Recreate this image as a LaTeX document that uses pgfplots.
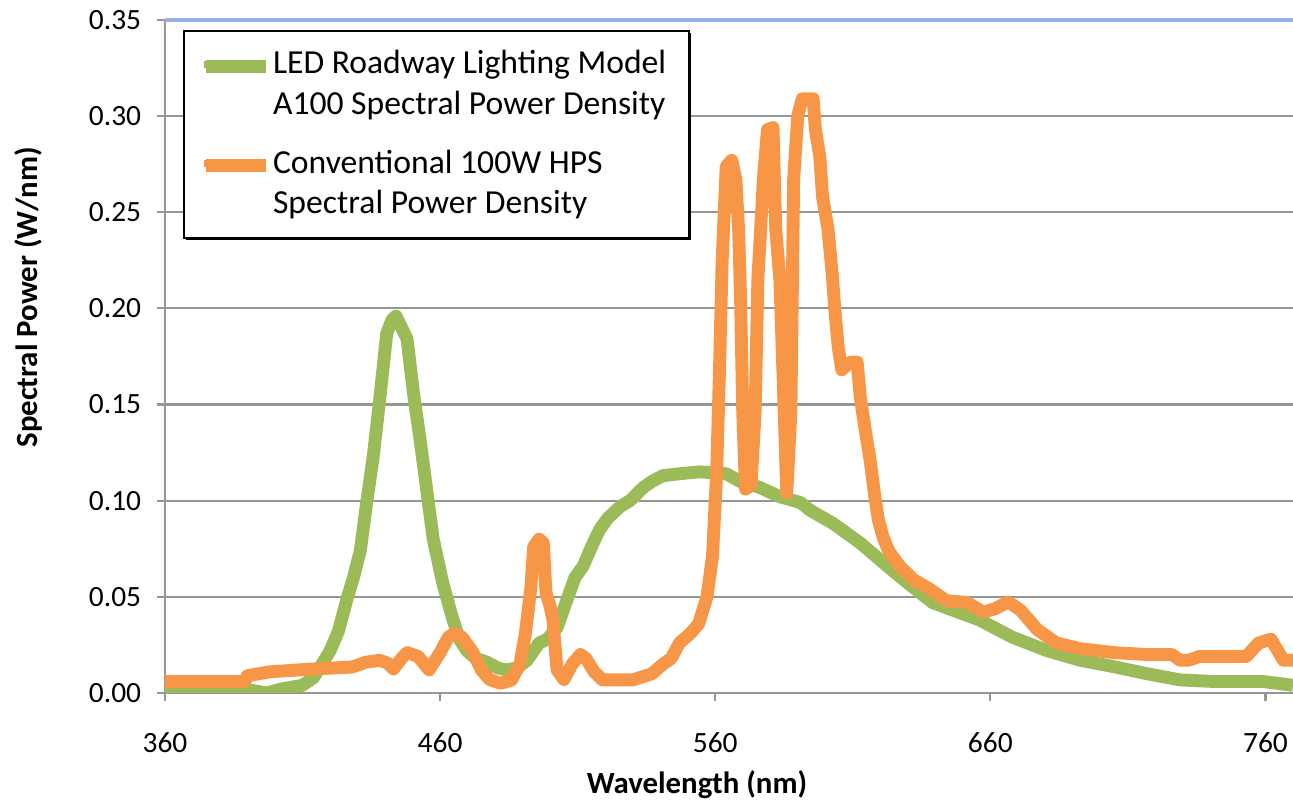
\documentclass[border=0pt]{standalone}
\usepackage{fontspec}
\setmainfont{Carlito}
\usepackage{pgfplots}
\pgfplotsset{compat=1.18}
\usetikzlibrary{shadows}

\definecolor{ledgreen}{RGB}{155,187,89}
\definecolor{hpsorange}{RGB}{247,150,70}
\definecolor{topblue}{RGB}{149,179,222}
\definecolor{gridgray}{RGB}{150,150,150}

\begin{document}
\begin{tikzpicture}
\useasboundingbox (-58.9pt,-41.06pt) rectangle (402.7pt,247.4pt);
\begin{axis}[
    scale only axis,
    width=402.7pt, height=240.3pt,
    xmin=360, xmax=770,
    ymin=0, ymax=0.35,
    xtick={360,460,...,760},
    ytick={0,0.05,...,0.3},
    extra y ticks={0.35},
    extra y tick style={grid style={color=topblue, line width=1.6pt}},
    axis x line*=bottom,
    axis y line*=left,
    axis line style={gridgray, line width=0.8pt, -},
    tick align=outside,
    major tick length=3pt,
    tick style={gridgray, line width=0.8pt},
    ymajorgrids,
    grid style={gridgray, line width=0.8pt},
    /pgf/number format/assume math mode=true,
    yticklabel style={/pgf/number format/fixed, /pgf/number format/fixed zerofill, /pgf/number format/precision=2, xshift=-2pt},
    ticklabel style={font=\fontsize{10.5}{12}\selectfont},
    xticklabel style={yshift=-7.5pt},
    xlabel={\textbf{Wavelength (nm)}},
    ylabel={\textbf{Spectral Power (W/nm)}},
    label style={font=\fontsize{11}{13}\selectfont},
    xlabel style={at={(axis description cs:0.4716,-0.1366)}, anchor=center},
    ylabel style={at={(axis description cs:-0.1214,0.588)}, anchor=center},
    legend style={at={(0.016,0.985)}, anchor=north west,
        draw=black, line width=0.6pt,
        drop shadow={shadow xshift=0.7pt, shadow yshift=-0.7pt, fill=black, opacity=1},
        font=\fontsize{12}{14.6}\selectfont,
        cells={align=left}, row sep=7pt,
        inner xsep=6pt, inner ysep=5pt},
    legend cell align=left,
    legend image code/.code={\draw[line width=2.5pt] (0cm,7.3pt) -- (0.75cm,7.3pt);},
]
\addplot[ledgreen, line width=4.6pt, line join=round] coordinates {
(360,0.002) (389,0.002) (393,0.001) (397,0.000) (402,0.002) (410,0.004)
(414,0.008) (417.5,0.016) (420,0.022) (423,0.032) (426,0.048) (428.5,0.060)
(431,0.074) (433.4,0.100) (435.7,0.123) (438,0.152) (440.6,0.187) (442.5,0.194)
(444,0.196) (446,0.190) (448,0.184) (450.3,0.156) (452.7,0.132) (455,0.107)
(457.5,0.080) (461,0.057) (464.7,0.038) (467,0.028) (469.7,0.022) (473,0.018)
(477,0.016) (481,0.013) (484,0.012) (488,0.013) (491.6,0.017) (496,0.026)
(499,0.028) (502.5,0.034) (505,0.044) (507,0.052) (509,0.060) (512,0.066)
(515,0.076) (518,0.085) (521,0.091) (525.5,0.097) (529,0.100) (534,0.107)
(537,0.110) (541,0.113) (547,0.114) (554.5,0.115) (564,0.114) (569,0.110)
(571.6,0.109) (576,0.107) (583.6,0.102) (591,0.099) (594.5,0.095) (603,0.088)
(612.7,0.078) (622.5,0.066) (631,0.056) (639,0.047) (646.5,0.043) (656,0.038)
(668,0.029) (680.6,0.022) (692.7,0.017) (704.8,0.0137) (717,0.010) (729,0.0068)
(741,0.006) (759,0.006) (770,0.004)
};
\addlegendentry{LED Roadway Lighting Model\\A100 Spectral Power Density}
\addplot[hpsorange, line width=4.6pt, line join=round] coordinates {
(360,0.006) (389,0.006) (390,0.009) (398,0.011) (414,0.0125) (428,0.0135)
(433,0.016) (438,0.017) (441,0.0155) (443,0.0125) (446,0.018) (448,0.021)
(452,0.019) (456,0.012) (460,0.021) (463,0.029) (465,0.031) (468,0.029)
(472,0.021) (475,0.012) (478,0.007) (482,0.005) (486,0.0068) (489,0.015)
(491,0.031) (493,0.055) (494,0.076) (496,0.080) (497.5,0.078) (498.5,0.052)
(500,0.045) (501,0.038) (502.5,0.012) (505,0.007) (508,0.015) (511,0.020)
(513,0.018) (516,0.011) (519,0.0068) (530,0.0068) (537,0.010) (541,0.015)
(544,0.018) (547,0.026) (551,0.031) (554,0.036) (557,0.050) (559,0.071)
(560.5,0.114) (561.5,0.165) (562.5,0.224) (564,0.274) (566,0.277) (567.5,0.267)
(568.5,0.241) (569.2,0.206) (570,0.146) (571,0.106) (573,0.108) (574.5,0.146)
(575.5,0.215) (577.5,0.267) (579,0.293) (581,0.294) (582,0.241) (583.5,0.215)
(584.7,0.163) (586,0.104) (587.5,0.146) (588.5,0.267) (590,0.300) (591.6,0.309)
(595.6,0.309) (596.4,0.293) (598,0.279) (599,0.258) (601,0.241) (602.5,0.218)
(603.6,0.197) (604.7,0.180) (606,0.168) (609,0.172) (611.6,0.172) (612.7,0.154)
(614.5,0.137) (616.4,0.120) (618,0.102) (619.3,0.090) (621,0.081) (623,0.074)
(627,0.066) (632,0.059) (638,0.054) (644,0.048) (651.6,0.047) (657.5,0.042)
(662,0.044) (666,0.047) (668,0.046) (671,0.043) (677,0.033) (684,0.026)
(692.7,0.023) (704.8,0.021) (717,0.020) (726,0.020) (729,0.017) (732,0.017)
(736,0.019) (753,0.019) (757.5,0.026) (762,0.028) (766.5,0.017) (770,0.017)
};
\addlegendentry{Conventional 100W HPS\\Spectral Power Density}
\end{axis}
\end{tikzpicture}
\end{document}
